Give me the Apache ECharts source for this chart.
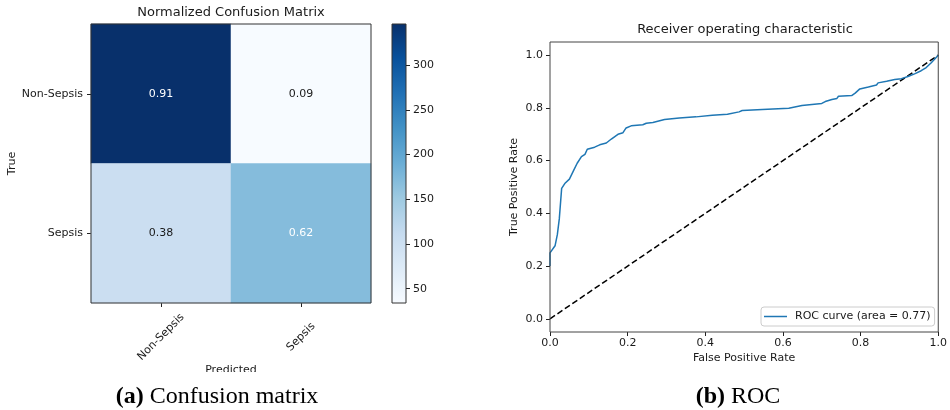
<!DOCTYPE html>
<html>
<head>
<meta charset="utf-8">
<script src="https://cdn.jsdelivr.net/npm/echarts@6/dist/echarts.min.js"></script>
<style>html,body{margin:0;padding:0;background:#fff;}#c{width:950px;height:410px;}</style>
</head>
<body>
<div id="c"></div>
<script>
// ---- Data ----
const cmCategories = ['Non-Sepsis', 'Sepsis'];
const cmCounts = [[346, 34], [104, 170]];          // rows: true, cols: predicted
const cmNormalized = [[0.91, 0.09], [0.38, 0.62]];
const colorbarTicks = [50, 100, 150, 200, 250, 300];
const colorbarMin = 34;
const colorbarMax = 346;

const rocFpr = [0.000, 0.000, 0.013, 0.019, 0.024, 0.030, 0.038, 0.050, 0.060, 0.070, 0.081, 0.090, 0.096, 0.115, 0.128, 0.145, 0.158, 0.175, 0.188, 0.196, 0.209, 0.239, 0.248, 0.265, 0.295, 0.333, 0.376, 0.418, 0.457, 0.461, 0.487, 0.495, 0.547, 0.615, 0.619, 0.649, 0.700, 0.709, 0.726, 0.739, 0.743, 0.777, 0.786, 0.798, 0.820, 0.841, 0.845, 0.867, 0.888, 0.905, 0.922, 0.939, 0.956, 0.969, 0.982, 1.000];
const rocTpr = [0.200, 0.250, 0.277, 0.320, 0.380, 0.495, 0.513, 0.530, 0.560, 0.590, 0.615, 0.624, 0.643, 0.651, 0.660, 0.667, 0.682, 0.700, 0.706, 0.724, 0.732, 0.736, 0.742, 0.745, 0.756, 0.762, 0.766, 0.772, 0.776, 0.783, 0.785, 0.790, 0.794, 0.799, 0.806, 0.809, 0.817, 0.824, 0.832, 0.836, 0.844, 0.847, 0.856, 0.872, 0.879, 0.887, 0.895, 0.901, 0.908, 0.911, 0.919, 0.929, 0.941, 0.953, 0.971, 1.000];
const chanceFpr = [0, 1];
const chanceTpr = [0, 1];
const rocTicks = [0, 0.2, 0.4, 0.6, 0.8, 1.0];
const rocLabel = 'ROC curve (area = 0.77)';

// ---- Styling ----
const FONT = 'DejaVu Sans';
const TXT = '#1a1a1a';
const blues = ['#f7fbff', '#deebf7', '#c6dbef', '#9ecae1', '#6baed6', '#4292c6', '#2171b5', '#08519c', '#08306b'];
const textThreshold = 0.91 / 2;

const heatData = [];
cmCounts.forEach((row, yi) => row.forEach((v, xi) => {
  const n = cmNormalized[yi][xi];
  heatData.push({ value: [xi, yi, v, n], label: { color: n > textThreshold ? '#ffffff' : TXT } });
}));

const gradient = {
  type: 'linear', x: 0, y: 1, x2: 0, y2: 0,
  colorStops: blues.map((c, i) => ({ offset: i / (blues.length - 1), color: c }))
};

const FS = 11;
const labelStyle = { fontFamily: FONT, fontSize: FS, color: TXT };
const nameStyle = { fontFamily: FONT, fontSize: FS, color: TXT };
const tickStyle = { lineStyle: { color: '#222', width: 1 } };
const captionRich = {
  b: { fontFamily: 'Liberation Serif', fontSize: 24, fontWeight: 'bold', color: '#000' },
  n: { fontFamily: 'Liberation Serif', fontSize: 24, fontWeight: 'normal', color: '#000' }
};

const chart = echarts.init(document.getElementById('c'), null, { renderer: 'canvas' });
chart.setOption({
  animation: false,
  backgroundColor: '#fff',
  title: [
    { text: 'Normalized Confusion Matrix', left: 231, top: 6, textAlign: 'center', padding: 0,
      textStyle: { fontFamily: FONT, fontSize: 13, fontWeight: 'normal', color: TXT } },
    { text: 'Receiver operating characteristic', left: 745, top: 23, textAlign: 'center', padding: 0,
      textStyle: { fontFamily: FONT, fontSize: 13, fontWeight: 'normal', color: TXT } },
    { text: '{b|(a)}{n| Confusion matrix}', left: 217, top: 385, textAlign: 'center', padding: 0,
      textStyle: { fontWeight: 'normal', rich: captionRich } },
    { text: '{b|(b)}{n| ROC}', left: 738, top: 385, textAlign: 'center', padding: 0,
      textStyle: { fontWeight: 'normal', rich: captionRich } }
  ],
  grid: [
    { left: 91, top: 24, width: 280, height: 279, show: true, backgroundColor: 'transparent', borderColor: '#333', borderWidth: 1, z: 10 },
    { left: 392, top: 24, width: 14, height: 279, show: true, backgroundColor: gradient, borderColor: '#333', borderWidth: 1 },
    { left: 550, top: 42, width: 390, height: 290, show: true, backgroundColor: 'transparent', borderColor: '#444', borderWidth: 1, z: 10 }
  ],
  xAxis: [
    { gridIndex: 0, type: 'category', data: cmCategories, position: 'bottom',
      axisLine: { show: false, onZero: false }, splitLine: { show: false },
      axisTick: { show: true, alignWithLabel: true, length: 4, ...tickStyle },
      axisLabel: { ...labelStyle, rotate: 45, align: 'center', verticalAlign: 'middle', margin: 34 },
      name: 'Predicted', nameLocation: 'middle', nameGap: 62, nameMoveOverlap: false, nameTextStyle: nameStyle },
    { gridIndex: 1, type: 'category', data: ['colorbar'], show: false },
    { gridIndex: 2, type: 'value', min: 0, max: 1, interval: 0.2, position: 'bottom',
      axisLine: { show: false, onZero: false }, splitLine: { show: false },
      axisTick: { show: true, length: 4, ...tickStyle },
      axisLabel: { ...labelStyle, margin: 6, showMinLabel: true, showMaxLabel: true, formatter: v => v.toFixed(1) },
      name: 'False Positive Rate', nameLocation: 'middle', nameGap: 21, nameMoveOverlap: false, nameTextStyle: nameStyle }
  ],
  yAxis: [
    { gridIndex: 0, type: 'category', data: cmCategories, inverse: true,
      axisLine: { show: false, onZero: false }, splitLine: { show: false },
      axisTick: { show: true, alignWithLabel: true, length: 4, ...tickStyle },
      axisLabel: { ...labelStyle, margin: 8 },
      name: 'True', nameLocation: 'middle', nameGap: 73, nameMoveOverlap: false, nameTextStyle: nameStyle },
    { gridIndex: 1, type: 'value', min: colorbarMin, max: colorbarMax, position: 'right',
      axisLine: { show: false, onZero: false }, splitLine: { show: false },
      axisTick: { show: true, length: 4, customValues: colorbarTicks, ...tickStyle },
      axisLabel: { ...labelStyle, margin: 7, customValues: colorbarTicks } },
    { gridIndex: 2, type: 'value', min: -0.05, max: 1.05, position: 'left',
      axisLine: { show: false, onZero: false }, splitLine: { show: false },
      axisTick: { show: true, length: 4, customValues: rocTicks, ...tickStyle },
      axisLabel: { ...labelStyle, margin: 7, customValues: rocTicks, formatter: v => v.toFixed(1) },
      name: 'True Positive Rate', nameLocation: 'middle', nameGap: 30, nameMoveOverlap: false, nameTextStyle: nameStyle }
  ],
  visualMap: {
    show: false, type: 'continuous', seriesIndex: 0, dimension: 2,
    min: colorbarMin, max: colorbarMax, inRange: { color: blues }
  },
  legend: {
    data: [{ name: rocLabel, icon: 'rect' }], left: 761, top: 307, orient: 'horizontal',
    padding: [3, 4, 3, 3], itemWidth: 23, itemHeight: 1.5, itemGap: 0,
    borderColor: '#cccccc', borderWidth: 1, borderRadius: 3, backgroundColor: '#fff',
    textStyle: { fontFamily: FONT, fontSize: FS, color: TXT, padding: [0, 0, 0, 3], lineHeight: 13 },
    selectedMode: false
  },
  series: [
    { type: 'heatmap', xAxisIndex: 0, yAxisIndex: 0, data: heatData,
      label: { show: true, fontFamily: FONT, fontSize: FS, formatter: p => p.value[3].toFixed(2) },
      emphasis: { disabled: true } },
    { type: 'line', name: rocLabel, xAxisIndex: 2, yAxisIndex: 2,
      data: rocFpr.map((x, i) => [x, rocTpr[i]]), symbol: 'none', showSymbol: false,
      lineStyle: { color: '#1f77b4', width: 1.5 }, itemStyle: { color: '#1f77b4' }, z: 3 },
    { type: 'line', name: 'chance', xAxisIndex: 2, yAxisIndex: 2,
      data: chanceFpr.map((x, i) => [x, chanceTpr[i]]), symbol: 'none', showSymbol: false,
      lineStyle: { color: '#000', width: 1.5, type: [6, 3] }, itemStyle: { color: '#000' }, z: 2 }
  ],
  graphic: [
    { type: 'rect', shape: { x: 100, y: 372, width: 260, height: 12 }, style: { fill: '#fff' }, z: 100, silent: true }
  ]
});
</script>
</body>
</html>
